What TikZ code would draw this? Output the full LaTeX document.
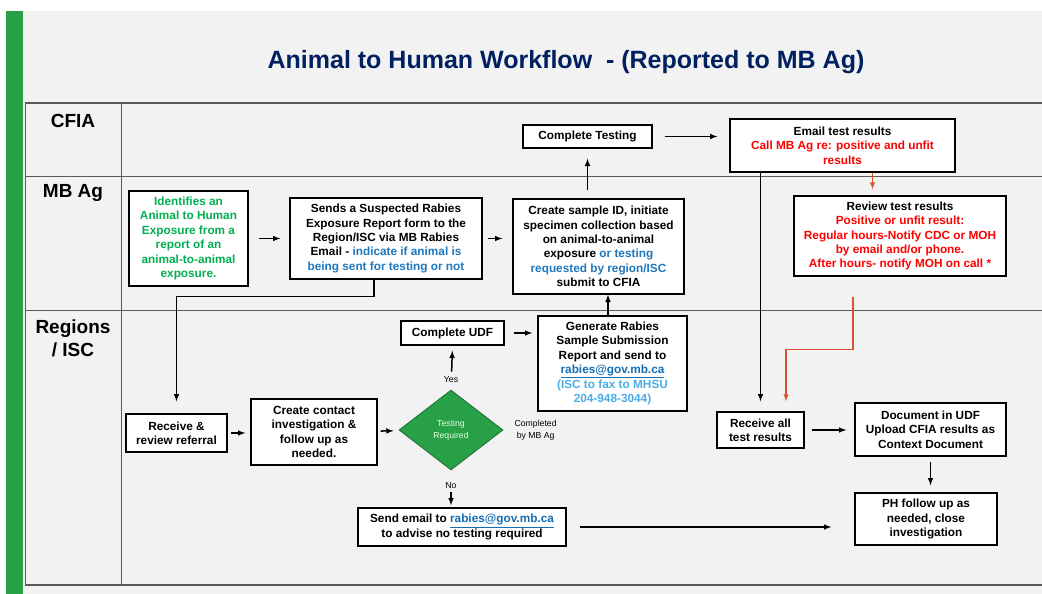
\documentclass[tikz,border=0pt]{standalone}
\usepackage{fontspec}
\setmainfont{Liberation Sans}
\usetikzlibrary{shapes,arrows,positioning}
\definecolor{titlenavy}{RGB}{0,32,96}
\definecolor{panelgray}{RGB}{242,242,242}
\definecolor{barTeal}{RGB}{39,160,71}
\definecolor{greentxt}{RGB}{0,176,80}
\definecolor{bluetxt}{RGB}{30,120,190}
\definecolor{linkblue}{RGB}{20,110,180}
\definecolor{skyblue}{RGB}{75,172,230}
\definecolor{redtxt}{RGB}{255,0,0}
\definecolor{arrowred}{RGB}{216,82,48}
\definecolor{diagreen}{RGB}{40,160,72}
\definecolor{rulegray}{RGB}{90,90,90}

\begin{document}
\begin{tikzpicture}[
  x=1pt, y=-1pt,
  box/.style={rectangle, draw, line width=1.4pt, fill=white, align=center, inner sep=1pt,
    font=\bfseries\fontsize{11.8}{14.4}\selectfont},
  lane/.style={font=\bfseries\fontsize{19}{23}\selectfont, align=center},
  note/.style={font=\fontsize{8.7}{11.5}\selectfont, align=center, inner sep=1pt},
  rule/.style={draw=rulegray, line width=0.9pt},
  flow/.style={->, >=latex, line width=1.5pt},
  redflow/.style={->, >=latex, line width=1.4pt, draw=arrowred},
]
\useasboundingbox (0,0) rectangle (1042,594);
\fill[white] (0,0) rectangle (1042,594);
\fill[panelgray] (23,11) rectangle (1042,594);
\fill[barTeal] (6,11) rectangle (23,594);

\node[font=\bfseries\fontsize{25}{30}\selectfont, text=titlenavy] (title) at (566,62)
  {Animal to Human Workflow \ - (Reported to MB Ag)};

\draw[rule, line width=1.6pt] (25,103) -- (1042,103);
\draw[rule] (25,176) -- (1042,176);
\draw[rule] (25,310) -- (1042,310);
\draw[rule, line width=1.6pt] (25,585) -- (1042,585);
\draw[rule] (25,103) -- (25,585);
\draw[rule] (121,103) -- (121,585);

\node[lane] (cfia) at (73,121) {CFIA};
\node[lane] (mbag) at (73,193) {MB Ag};
\node[lane] (regions) at (73,338) {Regions\\/ ISC};

\node[box, minimum width=119, minimum height=95, text=greentxt] (ident) at (188.5,238.5)
  {Identifies an\\Animal to Human\\Exposure from a\\report of an\\animal-to-animal\\exposure.};
\node[box, minimum width=192, minimum height=81] (sends) at (386,238.5)
  {Sends a Suspected Rabies\\Exposure Report form to the\\Region/ISC via MB Rabies\\Email - {\color{bluetxt}indicate if animal is}\\{\color{bluetxt}being sent for testing or not}};
\node[box, minimum width=171, minimum height=95] (sample) at (598.5,246.5)
  {Create sample ID, initiate\\specimen collection based\\on animal-to-animal\\exposure {\color{bluetxt}or testing}\\{\color{bluetxt}requested by region/ISC}\\submit to CFIA};
\node[box, minimum width=129, minimum height=23] (testing) at (587.5,136.5) {Complete Testing};
\node[box, minimum width=225, minimum height=53] (email) at (842.5,145.5)
  {Email test results\\{\color{redtxt}Call MB Ag re: positive and unfit}\\{\color{redtxt}results}};
\node[box, minimum width=212, minimum height=80] (review) at (900,236)
  {Review test results\\{\color{redtxt}Positive or unfit result:}\\{\color{redtxt}Regular hours-Notify CDC or MOH}\\{\color{redtxt}by email and/or phone.}\\{\color{redtxt}After hours- notify MOH on call *}};
\node[box, minimum width=103, minimum height=24] (udf) at (452.5,333) {Complete UDF};
\node[box, minimum width=149, minimum height=95] (generate) at (612.5,363.5)
  {Generate Rabies\\Sample Submission\\Report and send to\\{\color{linkblue}\underline{rabies@gov.mb.ca}}\\{\color{skyblue}(ISC to fax to MHSU}\\{\color{skyblue}204-948-3044)}};
\node[diamond, draw=diagreen!70!black, fill=diagreen, line width=0.8pt, minimum width=104, minimum height=80,
  inner sep=0pt, align=center, text=white!88!green, font=\fontsize{8.7}{11.5}\selectfont] (decide) at (451,430)
  {Testing\\Required};
\node[note, right=10pt of decide] (bymbag) {Completed\\by MB Ag};
\node[note] (yes) at ([yshift=10pt]decide.north) {Yes};
\node[note] (no) at ([yshift=-15pt]decide.south) {No};
\node[box, minimum width=101, minimum height=38] (receive) at (176.5,433) {Receive \&\\review referral};
\node[box, minimum width=126, minimum height=66] (contact) at (314,432)
  {Create contact\\investigation \&\\follow up as\\needed.};
\node[box, minimum width=208, minimum height=38] (sendmail) at (462,527)
  {Send email to {\color{linkblue}\underline{rabies@gov.mb.ca}}\\to advise no testing required};
\node[box, minimum width=87, minimum height=36] (recall) at (760.5,430) {Receive all\\test results};
\node[box, minimum width=151, minimum height=53] (docudf) at (930.5,429.5)
  {Document in UDF\\Upload CFIA results as\\Context Document};
\node[box, minimum width=142, minimum height=52] (ph) at (926,519)
  {PH follow up as\\needed, close\\investigation};

\draw[flow, shorten <=10pt, shorten >=9pt] (ident) -- (sends);
\draw[flow, shorten <=5pt, shorten >=10pt] (sends) -- (sample.west |- sends.east);
\draw[flow, shorten <=8pt, shorten >=10pt] (testing.south |- sample.north) -- (testing.south);
\draw[flow, shorten <=12pt, shorten >=12pt] (testing) -- (email.west |- testing.east);
\draw[redflow, shorten >=6pt] ([xshift=30pt]email.south) -- ([xshift=30pt]email.south |- review.north);
\draw[flow, shorten >=10pt] (recall.north |- email.south) -- (recall.north);
\draw[redflow, shorten >=10pt] ([xshift=-47pt,yshift=-20pt]review.south) -- ++(0,53) -| ([xshift=25.5pt]recall.north);
\draw[flow, shorten >=12pt] ([xshift=-12pt]sends.south) -- ++(0,17) -| (receive.north);
\draw[flow, shorten <=3pt, shorten >=5pt] (receive) -- (contact.west |- receive.east);
\draw[flow, shorten <=3pt, shorten >=6pt] (contact) -- (decide);
\draw[flow, shorten <=18pt, shorten >=5pt] (decide.north) -- (udf.south);
\draw[flow, shorten <=9pt, shorten >=5pt] (udf) -- (generate.west |- udf.east);
\draw[flow] ([xshift=-4.5pt]generate.north) -- ([xshift=-4.5pt]generate.north |- sample.south);
\draw[flow, shorten <=22pt, shorten >=2pt] (decide.south) -- (decide.south |- sendmail.north);
\draw[flow, shorten <=13pt, shorten >=23pt] (sendmail.east) -- (sendmail.east -| ph.west);
\draw[flow, shorten <=7pt, shorten >=8pt] (recall) -- (docudf.west |- recall.east);
\draw[flow, shorten <=5pt, shorten >=7pt] (docudf.south) -- (docudf.south |- ph.north);
\end{tikzpicture}
\end{document}
